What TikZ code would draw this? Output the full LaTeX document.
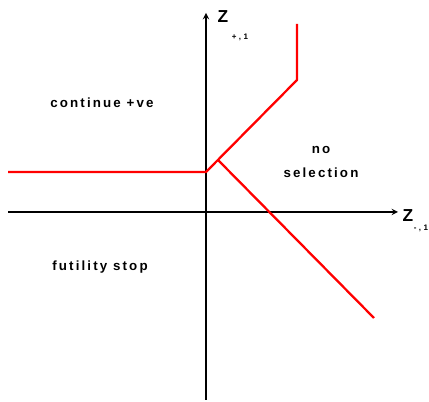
\documentclass[tikz,border=0pt]{standalone}
\usepackage{fontspec}
\setmainfont{Liberation Sans}
\newfontfamily\lblfont{Liberation Sans Bold}[LetterSpace=16]
\newfontfamily\axfont{Liberation Sans Bold}[LetterSpace=30]
\usepackage{tikz}

\begin{document}
\begin{tikzpicture}[>=stealth, x=0.75pt, y=-0.75pt,
  every node/.style={font=\fontsize{10}{11}\lblfont},
  axis/.style={line width=1.1pt},
  bound/.style={red, line width=1.7pt}]
\useasboundingbox (0,0) rectangle (429,402);
% axes
\coordinate (xl) at (8,212);
\coordinate (xr) at (398,212);
\coordinate (yb) at (206,400);
\coordinate (yt) at (206,13);
\draw[axis,->] (xl) -- (xr);
\draw[axis,->] (yb) -- (yt);
\node[font=\fontsize{13}{14}\axfont] (zp) at (223,17) {Z};
\node[font=\fontsize{6}{7}\axfont] (zpsub) at (240,37) {+,1};
\node[font=\fontsize{13}{14}\axfont] (zm) at (408,216) {Z};
\node[font=\fontsize{6}{7}\axfont] (zmsub) at (421,228) {-,1};
% boundaries
\coordinate (a0) at (8,172);
\coordinate (a1) at (206,172);
\coordinate (a2) at (297,80);
\coordinate (a3) at (297,24);
\coordinate (b0) at (218,160);
\coordinate (b1) at (374,318);
\draw[bound, line join=round] (a0) -- (a1) -- (a2) -- (a3);
\draw[bound] (b0) -- (b1);
% regions
\node (cont) at (102,103) {continue +ve};
\node (nosel) at (321,162) [align=center] {no\\[7pt]selection};
\node (fut) at (100,267) {futility stop};
\end{tikzpicture}
\end{document}
